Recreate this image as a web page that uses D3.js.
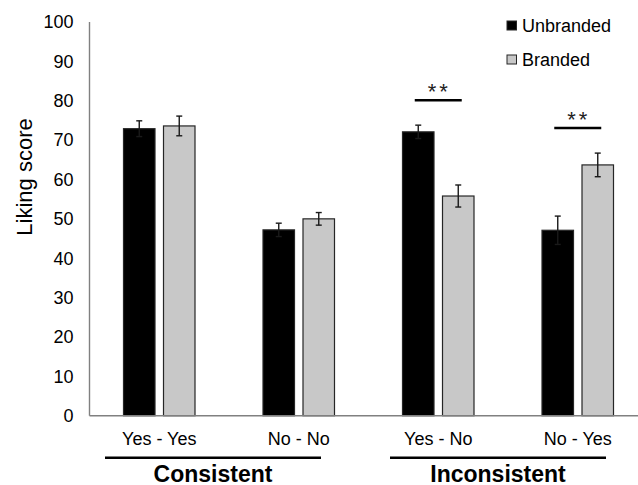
<!DOCTYPE html>
<html><head><meta charset="utf-8">
<script src="https://cdn.jsdelivr.net/npm/d3@7"></script>
<style>body{margin:0;background:#fff}svg{display:block}text{font-family:"Liberation Sans",Arial,sans-serif}</style>
</head><body>
<svg id="c" width="638" height="485"></svg>
<script>
const categories = ["Yes - Yes", "No - No", "Yes - No", "No - Yes"];
const seriesNames = ["Unbranded", "Branded"];
const unbranded = [72.9, 47.2, 72.1, 47.1];
const branded = [73.6, 50.0, 55.8, 63.7];
const unbrandedErr = [2.0, 1.7, 1.7, 3.6];
const brandedErr = [2.5, 1.6, 2.8, 3.0];
const yTicks = [0, 10, 20, 30, 40, 50, 60, 70, 80, 90, 100];
const groupNames = ["Consistent", "Inconsistent"];
const groupCats = [["Yes - Yes", "No - No"], ["Yes - No", "No - Yes"]];
const sigCats = ["Yes - No", "No - Yes"];
const sigLabel = "**";

const svg = d3.select("#c");
const x = d3.scaleBand().domain(categories).range([89.5, 647.5]);
const y = d3.scaleLinear().domain([0, 100]).range([415.7, 22]);
const bw = 31.5, gap = 8.5;
const sub = d3.scaleOrdinal().domain(seriesNames).range([-(bw + gap / 2), gap / 2]);
const fills = {Unbranded: "#000", Branded: "#c8c8c8"};

// y tick labels
svg.append("g").selectAll("text").data(yTicks).join("text")
  .attr("x", 73.5).attr("y", d => y(d)).attr("dy", "0.35em")
  .attr("text-anchor", "end").attr("font-size", 18).attr("fill", "#000").text(d => d);

// y title
svg.append("text").attr("transform", `translate(31.5,177) rotate(-90)`)
  .attr("text-anchor", "middle").attr("font-size", 22).attr("fill", "#000").text("Liking score");

// bars
const data = [];
categories.forEach((c, i) => {
  data.push({c, s: "Unbranded", v: unbranded[i], e: unbrandedErr[i]});
  data.push({c, s: "Branded", v: branded[i], e: brandedErr[i]});
});
const cx = d => x(d.c) + x.bandwidth() / 2 + sub(d.s);
svg.append("g").selectAll("rect").data(data).join("rect")
  .attr("x", cx).attr("width", bw)
  .attr("y", d => y(d.v)).attr("height", d => y(0) - y(d.v))
  .attr("fill", d => fills[d.s]).attr("stroke", "#262626").attr("stroke-width", 1.2);

// error bars
const eb = svg.append("g").attr("stroke", "#1a1a1a").attr("stroke-width", 1.4);
data.forEach(d => {
  const mx = cx(d) + bw / 2;
  eb.append("line").attr("x1", mx).attr("x2", mx).attr("y1", y(d.v + d.e)).attr("y2", y(d.v - d.e));
  eb.append("line").attr("x1", mx - 3).attr("x2", mx + 3).attr("y1", y(d.v + d.e)).attr("y2", y(d.v + d.e));
  eb.append("line").attr("x1", mx - 3).attr("x2", mx + 3).attr("y1", y(d.v - d.e)).attr("y2", y(d.v - d.e));
});

// axis lines
svg.append("line").attr("x1", 89.5).attr("x2", 89.5).attr("y1", y(100)).attr("y2", y(0))
  .attr("stroke", "#808080").attr("stroke-width", 1.4);
svg.append("line").attr("x1", 89.5).attr("x2", 647.5).attr("y1", y(0)).attr("y2", y(0))
  .attr("stroke", "#808080").attr("stroke-width", 1.4);

// category labels
svg.append("g").selectAll("text").data(categories).join("text")
  .attr("x", d => x(d) + x.bandwidth() / 2).attr("y", 444.5)
  .attr("text-anchor", "middle").attr("font-size", 18).attr("fill", "#000").text(d => d);

// group underlines + labels
groupNames.forEach((name, gi) => {
  const cats = groupCats[gi];
  const x0 = x(cats[0]) + 15.5 + gi * 6, x1 = x(cats[1]) + x.bandwidth() - 47.5 + gi * 6;
  svg.append("line").attr("x1", x0).attr("x2", x1).attr("y1", 457.7).attr("y2", 457.7)
    .attr("stroke", "#000").attr("stroke-width", 2.5);
  svg.append("text").attr("x", (x0 + x1) / 2).attr("y", 481.5).attr("text-anchor", "middle")
    .attr("font-size", 23).attr("font-weight", "bold").attr("fill", "#000").text(name);
});

// significance markers
sigCats.forEach(c => {
  const i = categories.indexOf(c);
  const top = Math.max(unbranded[i] + unbrandedErr[i], branded[i] + brandedErr[i]);
  const ly = y(top) - 25;
  const mid = x(c) + x.bandwidth() / 2;
  svg.append("line").attr("x1", mid - 23.5).attr("x2", mid + 23.5).attr("y1", ly).attr("y2", ly)
    .attr("stroke", "#000").attr("stroke-width", 2.5);
  svg.append("text").attr("x", mid + 1).attr("y", ly - 1.5).attr("text-anchor", "middle")
    .attr("font-size", 22).attr("letter-spacing", 3).attr("fill", "#222").text(sigLabel);
});

// legend
const lg = svg.append("g");
seriesNames.forEach((s, i) => {
  const yy = 21 + i * 34;
  lg.append("rect").attr("x", 507).attr("y", yy).attr("width", 9.5).attr("height", 9)
    .attr("fill", fills[s]).attr("stroke", "#262626").attr("stroke-width", 1);
  lg.append("text").attr("x", 522).attr("y", yy + 10.5).attr("font-size", 18).attr("fill", "#000").text(s);
});
</script>
</body></html>
